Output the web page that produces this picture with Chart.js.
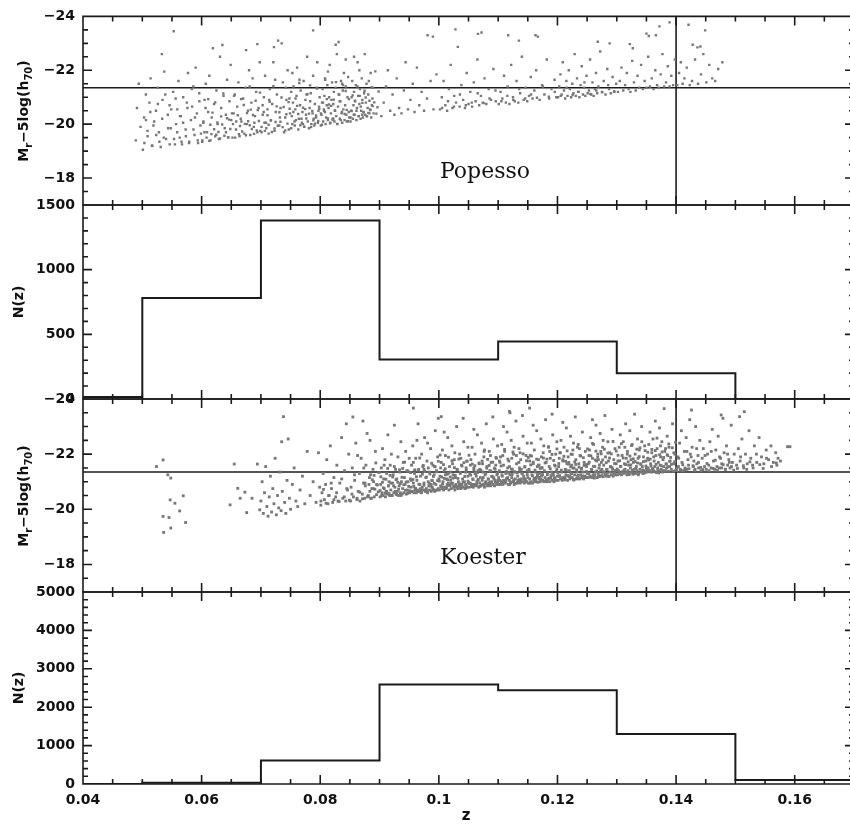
<!DOCTYPE html>
<html><head><meta charset="utf-8">
<script src="https://cdn.jsdelivr.net/npm/chart.js@4/dist/chart.umd.min.js"></script>
<style>
html,body{margin:0;padding:0;background:#fff;}
#wrap{position:relative;width:850px;height:825px;overflow:hidden;background:#fff;}
canvas{position:absolute;left:0;top:0;}
</style></head><body>
<div id="wrap">
<canvas id="c0" width="860" height="825"></canvas>
<canvas id="c1" width="860" height="825"></canvas>
<canvas id="c2" width="860" height="825"></canvas>
<canvas id="c3" width="860" height="825"></canvas>
</div>
<script>
// ---------------- data ----------------
const zMin = 0.04, zMax = 0.17;
const magMin = -24, magMax = -17;
const limitMag = -21.35;
const zCut = 0.14;
const binEdges = [0.03,0.05,0.07,0.09,0.11,0.13,0.15,0.17];
const popessoCounts = [15,780,1380,305,445,200,0];
const koesterCounts = [0,30,615,2590,2440,1300,105];
const zTicks = [0.04,0.06,0.08,0.1,0.12,0.14,0.16];
const zTickLabels = ['0.04','0.06','0.08','0.1','0.12','0.14','0.16'];
const magTicks = [-24,-22,-20,-18];
const magTickLabels = ['\u221224','\u221222','\u221220','\u221218'];
const popNTicks = [0,500,1000,1500];
const popNTickLabels = ['0','500','1000','1500'];
const koeNTicks = [0,1000,2000,3000,4000,5000];
const koeNTickLabels = ['0','1000','2000','3000','4000','5000'];

const popessoPts = [
[.0489,-19.4],[.0491,-20.6],[.0494,-21.5],[.0497,-19.9],[.0501,-19.05],[.0503,-20.25],[.0506,-21.1],[.0509,-19.55],[.0512,-20.8],[.0514,-21.7],[.0517,-19.2],[.0520,-20.1],[.0523,-20.5],[.0526,-21.35],[.0528,-19.7],[.0531,-19.15],[.0534,-20.9],[.0537,-21.95],[.0540,-19.45],[.0543,-20.35],[.0546,-20.7],[.0548,-19.85],
[.0552,-21.2],[.0553,-23.45],[.0555,-19.25],[.0557,-20.0],[.0559,-20.55],[.0561,-21.6],[.0563,-19.5],[.0565,-20.3],[.0567,-19.25],[.0569,-21.0],[.0533,-22.6],[.0573,-19.8],[.0575,-20.8],[.0577,-21.9],[.0579,-19.35],[.0582,-20.15],[.0584,-20.65],[.0586,-21.4],[.0588,-19.6],[.0590,-22.1],[.0592,-20.4],[.0594,-19.3],[.0596,-21.15],[.0598,-19.95],
[.0601,-19.35],[.0603,-20.1],[.0605,-20.9],[.0607,-21.5],[.0609,-19.7],[.0611,-20.45],[.0613,-21.8],[.0615,-19.4],[.0617,-20.25],[.0619,-22.82],[.0621,-20.75],[.0623,-19.55],[.0625,-21.25],[.0627,-20.0],[.0629,-19.45],[.0631,-22.5],[.0633,-20.6],[.0635,-22.94],[.0637,-21.05],[.0639,-19.85],[.0641,-20.35],[.0643,-21.65],[.0645,-19.5],[.0647,-20.85],[.0649,-22.2],[.0650,-20.15],
[.0652,-19.5],[.0654,-20.4],[.0656,-21.1],[.0658,-19.8],[.0660,-20.65],[.0662,-21.55],[.0664,-19.55],[.0666,-20.2],[.0675,-22.75],[.0670,-20.95],[.0672,-19.65],[.0674,-21.35],[.0676,-20.0],[.0678,-20.5],[.0680,-22.0],[.0682,-19.6],[.0684,-20.8],[.0686,-21.7],[.0688,-19.9],[.0690,-20.3],[.0692,-21.2],[.0694,-19.7],[.0696,-20.6],[.0698,-22.3],[.0667,-20.1],[.0681,-21.4],[.0689,-20.05],[.0699,-19.75],
[.0701,-19.7],[.0703,-20.35],[.0705,-21.0],[.0707,-21.8],[.0709,-19.85],[.0711,-20.55],[.0713,-19.65],[.0715,-21.3],[.0717,-20.15],[.0719,-20.75],[.0721,-22.3],[.0722,-22.86],[.0723,-19.75],[.0725,-20.45],[.0727,-21.1],[.0729,-23.1],[.0731,-19.95],[.0733,-20.6],[.0735,-23.0],[.0737,-21.55],[.0739,-19.7],[.0741,-20.25],[.0743,-20.9],[.0745,-22.0],[.0747,-19.8],[.0749,-20.4],[.0706,-20.05],[.0714,-20.9],[.0724,-21.65],[.0732,-20.25],[.0742,-21.35],[.0748,-20.95],[.0694,-22.97],
[.0751,-19.85],[.0752,-20.3],[.0754,-20.8],[.0755,-21.4],[.0757,-19.95],[.0758,-20.55],[.0760,-21.05],[.0761,-22.1],[.0763,-19.8],[.0764,-20.2],[.0766,-20.7],[.0767,-21.25],[.0769,-20.05],[.0770,-20.45],[.0772,-21.6],[.0773,-19.9],[.0775,-20.9],[.0776,-20.35],[.0778,-22.5],[.0779,-20.1],[.0781,-19.85],[.0782,-20.6],[.0784,-21.15],[.0785,-20.0],[.0787,-20.4],[.0788,-21.8],[.0790,-19.95],[.0791,-20.75],[.0793,-20.25],[.0794,-21.35],[.0796,-20.05],[.0797,-20.5],[.0799,-21.0],[.0753,-21.9],[.0759,-20.15],[.0765,-21.65],[.0771,-20.0],[.0777,-21.1],[.0783,-20.85],[.0789,-20.2],[.0795,-22.3],[.0798,-20.65],
[.0801,-19.95],[.0802,-20.35],[.0803,-20.8],[.0804,-21.3],[.0805,-20.1],[.0806,-20.55],[.0807,-21.05],[.0808,-21.7],[.0809,-20.0],[.0810,-20.25],[.0811,-20.7],[.0812,-21.45],[.0813,-20.15],[.0814,-20.6],[.0815,-21.0],[.0816,-22.2],[.0817,-20.05],[.0818,-20.4],[.0819,-20.9],[.0820,-21.55],[.0821,-20.2],[.0822,-20.75],[.0823,-21.2],[.0824,-20.1],[.0825,-20.5],[.0826,-21.35],[.0827,-20.3],[.0828,-22.6],[.0829,-20.0],[.0830,-20.65],[.0831,-23.05],[.0832,-21.1],[.0833,-20.2],[.0834,-20.85],[.0835,-21.6],[.0836,-20.4],[.0837,-20.05],[.0838,-21.25],[.0839,-20.55],[.0840,-21.9],[.0841,-20.15],[.0842,-20.7],[.0843,-21.4],[.0844,-20.35],[.0845,-20.1],[.0846,-21.0],[.0847,-21.75],[.0848,-20.45],[.0849,-20.25],[.0788,-23.48],[.0826,-22.95],[.0843,-22.4],[.0813,-21.95],[.0837,-21.5],[.0808,-20.45],[.0822,-20.2],
[.0851,-20.1],[.0852,-20.5],[.0853,-21.0],[.0854,-21.6],[.0855,-20.2],[.0856,-20.7],[.0857,-21.2],[.0858,-20.35],[.0859,-20.85],[.0860,-21.45],[.0861,-20.15],[.0862,-20.6],[.0863,-22.3],[.0864,-21.05],[.0865,-20.3],[.0866,-20.75],[.0867,-21.3],[.0868,-20.2],[.0869,-20.5],[.0870,-21.7],[.0871,-20.9],[.0872,-20.25],[.0873,-20.45],[.0874,-21.15],[.0875,-22.6],[.0876,-20.35],[.0877,-20.8],[.0878,-21.5],[.0879,-20.3],[.0880,-20.6],[.0881,-21.1],[.0883,-20.4],[.0885,-21.9],[.0886,-20.25],[.0887,-20.7],[.0889,-21.35],[.0890,-20.4],[.0884,-20.55],[.0888,-20.95],[.0882,-21.6],[.0866,-22.0],[.0857,-22.5],[.0871,-20.35],
[.0903,-20.3],[.0907,-20.8],[.0911,-21.4],[.0914,-22.0],[.0918,-20.5],[.0922,-21.1],[.0925,-20.35],[.0929,-21.7],[.0933,-20.6],[.0937,-20.4],[.0941,-21.25],[.0944,-22.3],[.0948,-20.55],[.0952,-20.9],[.0956,-21.5],[.0959,-20.45],[.0963,-22.1],[.0967,-20.7],[.0971,-21.2],[.0975,-20.5],[.0980,-20.95],[.0986,-21.6],[.0991,-20.55],[.0996,-21.85],
[.0981,-23.3],[.0990,-23.25],[.1028,-23.52],[.1002,-20.55],[.1005,-21.0],[.1008,-21.6],[.1011,-20.7],[.1014,-20.5],[.1017,-21.3],[.1020,-22.2],[.1023,-20.6],[.1026,-21.05],[.1029,-20.8],[.1032,-22.87],[.1035,-20.65],[.1038,-21.45],[.1041,-20.9],[.1044,-20.6],[.1047,-21.9],[.1050,-20.75],[.1053,-21.2],[.1056,-20.65],[.1059,-21.55],[.1062,-20.85],[.1065,-22.4],[.1068,-20.7],[.1071,-21.05],[.1074,-20.8],[.1077,-21.7],[.1080,-20.75],[.1084,-21.3],[.1088,-20.9],[.1092,-22.05],[.1096,-20.85],
[.1066,-23.35],[.1072,-23.4],[.1117,-23.3],[.1135,-23.1],[.1163,-23.3],[.1167,-23.25],[.1101,-20.75],[.1104,-21.2],[.1107,-20.95],[.1110,-21.8],[.1113,-20.8],[.1116,-21.4],[.1119,-20.75],[.1122,-22.2],[.1125,-21.0],[.1128,-20.85],[.1131,-21.6],[.1134,-20.8],[.1137,-21.15],[.1140,-22.5],[.1143,-20.9],[.1146,-21.35],[.1149,-20.85],[.1152,-21.05],[.1155,-21.75],[.1158,-20.95],[.1161,-21.25],[.1164,-22.0],[.1170,-20.9],[.1174,-21.45],[.1178,-21.1],[.1182,-22.4],[.1186,-20.95],[.1190,-21.3],[.1195,-21.65],[.1198,-21.0],
[.1201,-21.0],[.1203,-21.4],[.1205,-21.85],[.1207,-21.1],[.1209,-22.3],[.1211,-21.25],[.1213,-20.95],[.1215,-21.6],[.1217,-21.05],[.1219,-22.0],[.1221,-21.3],[.1223,-21.0],[.1225,-21.5],[.1227,-21.15],[.1229,-22.6],[.1231,-21.05],[.1233,-21.7],[.1235,-21.2],[.1237,-21.0],[.1239,-21.45],[.1241,-22.15],[.1243,-21.1],[.1245,-21.35],[.1247,-21.05],[.1249,-21.8],[.1251,-21.15],[.1253,-21.25],[.1255,-22.4],[.1257,-21.1],[.1259,-21.55],[.1261,-21.05],[.1263,-21.3],[.1265,-21.9],[.1267,-21.15],[.1269,-21.4],[.1272,-22.7],[.1275,-21.2],[.1278,-21.6],[.1281,-21.1],[.1284,-22.05],[.1287,-21.3],[.1290,-21.15],[.1293,-21.75],[.1296,-21.2],[.1299,-21.5],
[.1268,-23.06],[.1288,-23.0],[.1322,-22.97],[.1327,-22.82],[.1350,-23.36],[.1354,-23.27],[.1366,-23.3],[.1372,-23.63],[.1389,-23.78],[.1302,-21.2],[.1305,-21.6],[.1308,-22.1],[.1311,-21.25],[.1314,-21.45],[.1317,-21.9],[.1320,-21.3],[.1323,-21.2],[.1326,-22.35],[.1329,-21.55],[.1332,-21.25],[.1335,-21.8],[.1338,-21.35],[.1341,-22.2],[.1344,-21.3],[.1347,-21.6],[.1350,-21.35],[.1353,-22.5],[.1356,-21.4],[.1359,-21.7],[.1362,-21.3],[.1365,-22.0],[.1368,-21.45],[.1371,-21.35],[.1374,-21.85],[.1377,-22.6],[.1380,-21.4],[.1383,-21.55],[.1386,-22.15],[.1389,-21.4],[.1392,-21.8],[.1395,-21.45],[.1398,-22.4],
[.1421,-23.69],[.1449,-23.48],[.1428,-22.95],[.1436,-22.85],[.1441,-22.88],[.1402,-21.45],[.1405,-21.9],[.1408,-22.3],[.1411,-21.5],[.1414,-21.7],[.1418,-22.1],[.1423,-21.45],[.1427,-21.6],[.1432,-22.4],[.1437,-21.5],[.1442,-21.85],[.1446,-22.6],[.1451,-21.55],[.1456,-22.2],[.1461,-21.7],[.1466,-21.6],[.1471,-22.05],[.1478,-22.3]
];

// extra estimates for the crowded part of the Popesso cloud
const popessoDense = [
[.05035,-19.3],[.05062,-20.15],[.05088,-19.75],[.05135,-20.45],[.05162,-19.2],[.05188,-19.95],[.05235,-19.6],[.05262,-20.75],[.05288,-19.35],[.05335,-20.2],[.05362,-19.5],[.05388,-21.1],[.05435,-19.85],[.05462,-19.25],[.05488,-20.55],[.05535,-19.45],[.05562,-20.95],[.05588,-19.7],[.05635,-20.3],[.05662,-19.35],[.05688,-20.05],[.05735,-19.55],[.05762,-20.6],[.05788,-19.3],[.05835,-21.3],[.05862,-19.8],[.05888,-20.25],[.05935,-19.4],[.05962,-20.85],[.05988,-19.65],
[.06011,-19.4],[.06029,-20.05],[.06047,-19.7],[.06066,-20.6],[.06084,-19.5],[.06111,-20.93],[.06129,-19.38],[.06147,-19.98],[.06166,-19.63],[.06184,-20.43],[.06211,-19.81],[.06229,-20.81],[.06247,-19.61],[.06266,-20.06],[.06284,-19.71],[.06311,-19.47],[.06329,-20.29],[.06347,-19.99],[.06366,-21.14],[.06384,-19.57],[.06411,-19.7],[.06429,-20.22],[.06447,-19.52],[.06466,-20.17],[.06484,-19.82],
[.06511,-20.4],[.06529,-20.0],[.06547,-21.05],[.06566,-19.5],[.06584,-20.1],[.06611,-20.33],[.06629,-19.63],[.06647,-19.93],[.06666,-20.93],[.06684,-19.73],[.06711,-20.71],[.06729,-20.01],[.06747,-19.59],[.06766,-20.41],[.06784,-20.11],[.06811,-19.96],[.06829,-20.54],[.06847,-19.82],[.06866,-20.34],[.06884,-19.64],[.06911,-20.87],[.06929,-19.77],[.06947,-20.52],[.06966,-20.12],[.06984,-21.17],
[.07011,-19.9],[.07029,-20.7],[.07047,-20.45],[.07066,-19.75],[.07084,-20.05],[.07111,-20.33],[.07129,-19.98],[.07147,-20.83],[.07166,-20.13],[.07184,-19.71],[.07211,-21.41],[.07229,-19.84],[.07247,-20.08],[.07266,-20.66],[.07284,-19.94],[.07311,-20.44],[.07329,-20.09],[.07347,-20.99],[.07366,-19.89],[.07384,-20.64],[.07411,-19.77],[.07429,-20.37],[.07447,-20.02],[.07466,-20.82],[.07484,-20.57],
[.07511,-21.2],[.07529,-20.0],[.07547,-20.45],[.07566,-20.1],[.07584,-20.95],[.07611,-20.68],[.07629,-20.38],[.07647,-21.53],[.07666,-19.96],[.07684,-20.2],[.07711,-20.61],[.07729,-19.91],[.07747,-20.56],[.07766,-20.21],[.07784,-21.11],[.07811,-20.39],[.07829,-21.44],[.07847,-19.89],[.07866,-20.49],[.07884,-20.14],[.07911,-20.02],[.07929,-20.32],[.07947,-21.32],[.07966,-20.12],[.07984,-20.57],
[.08011,-20.4],[.08029,-19.98],[.08047,-20.8],[.08066,-20.5],[.08084,-21.65],[.08111,-20.93],[.08129,-20.21],[.08147,-20.73],[.08166,-20.03],[.08184,-20.68],[.08211,-20.16],[.08229,-20.91],[.08247,-20.51],[.08266,-21.56],[.08284,-20.01],[.08311,-21.1],[.08329,-20.85],[.08347,-20.15],[.08366,-20.45],[.08384,-21.45],[.08411,-20.38],[.08429,-21.23],[.08447,-20.53],[.08466,-20.11],[.08484,-20.93],
[.08511,-20.25],[.08529,-20.49],[.08547,-21.07],[.08566,-20.35],[.08584,-20.87],[.08611,-20.5],[.08629,-21.4],[.08647,-20.3],[.08666,-21.05],[.08684,-20.65],[.08711,-20.79],[.08729,-20.44],[.08747,-21.24],[.08766,-20.99],[.08784,-20.29],[.08811,-20.42],[.08829,-20.87],[.08847,-20.52],[.08866,-21.37],[.08884,-20.67],[.08911,-20.81],[.08929,-21.96],[.08947,-20.39],[.08966,-20.63],[.08984,-21.21],
[.10055,-20.6],[.10155,-20.85],[.10255,-20.65],[.10355,-21.1],[.10455,-20.7],[.10555,-20.8],[.10655,-21.15],[.10755,-20.78],[.10855,-20.95],[.10955,-21.25],[.11055,-20.85],[.11155,-21.05],[.11255,-20.9],[.11355,-21.3],[.11455,-20.95],[.11555,-21.1],[.11655,-20.98],[.11755,-21.4],[.11855,-21.02],[.11955,-21.2],[.12055,-21.05],[.12155,-21.35],[.12255,-21.08],[.12355,-21.2],[.12455,-21.55],[.12555,-21.12],[.12655,-21.25],[.12755,-21.18],[.12855,-21.45],[.12955,-21.22]
];

const koesterPts = [
[.0524,-21.55],[.0535,-21.79],[.0543,-21.25],[.0548,-21.13],[.0547,-20.34],[.0555,-20.22],[.0569,-20.49],[.0563,-19.94],[.0573,-19.52],[.0535,-19.74],[.0545,-19.7],[.0548,-19.32],[.0536,-19.16],
[.0648,-20.16],[.0655,-21.64],[.0661,-20.76],[.0665,-20.4],[.0673,-20.62],[.0676,-19.88],[.0685,-20.4],[.0694,-21.64],[.0698,-19.98],
[.0738,-23.36],[.0735,-22.45],[.0746,-22.55],[.0700,-20.3],[.0702,-21.0],[.0704,-19.85],[.0706,-20.6],[.0708,-21.55],[.0710,-20.1],[.0712,-19.75],[.0714,-20.45],[.0716,-21.2],[.0718,-19.9],[.0720,-20.75],[.0722,-20.2],[.0724,-21.85],[.0726,-19.8],[.0728,-20.5],[.0730,-20.05],[.0732,-21.35],[.0734,-19.95],[.0736,-20.65],[.0740,-20.25],[.0742,-19.85],[.0744,-21.05],[.0748,-20.4],[.0750,-20.0],[.0753,-20.9],[.0756,-21.5],[.0759,-20.3],[.0762,-20.1],[.0766,-20.7],[.0770,-21.2],[.0774,-20.2],[.0778,-22.1],[.0783,-20.5],[.0788,-21.0],[.0793,-20.25],[.0797,-22.05],[.0799,-20.8],
[.0844,-23.1],[.0801,-20.15],[.0803,-20.6],[.0805,-21.3],[.0807,-20.35],[.0809,-20.9],[.0811,-21.8],[.0813,-20.2],[.0815,-20.5],[.0817,-22.3],[.0819,-20.75],[.0821,-20.25],[.0823,-21.15],[.0826,-20.45],[.0828,-21.6],[.0830,-20.3],[.0833,-20.95],[.0836,-22.6],[.0838,-20.4],[.0841,-21.4],[.0843,-20.3],[.0846,-20.7],[.0848,-22.0],
[.0855,-23.35],[.0872,-23.2],[.0851,-20.3],[.0852,-20.8],[.0854,-21.5],[.0856,-20.45],[.0858,-21.05],[.0860,-22.4],[.0862,-20.35],[.0864,-20.65],[.0866,-21.3],[.0867,-20.3],[.0869,-21.85],[.0871,-20.55],[.0873,-20.95],[.0875,-20.4],[.0877,-21.6],[.0879,-22.75],[.0881,-20.5],[.0883,-21.15],[.0885,-20.4],[.0887,-20.75],[.0889,-21.45],[.0891,-20.45],[.0893,-22.1],[.0895,-20.9],[.0863,-21.95],[.0876,-20.85],[.0884,-22.5],[.0890,-21.0],
[.0901,-20.45],[.0902,-20.9],[.0903,-21.5],[.0904,-20.6],[.0905,-22.2],[.0906,-20.5],[.0907,-21.1],[.0908,-20.75],[.0909,-21.8],[.0910,-20.45],[.0911,-20.65],[.0912,-21.3],[.0913,-20.55],[.0914,-22.7],[.0915,-20.85],[.0916,-21.0],[.0917,-20.5],[.0918,-21.6],[.0919,-20.7],[.0920,-22.0],[.0921,-20.5],[.0922,-20.95],[.0923,-21.25],[.0924,-20.6],[.0925,-23.05],[.0926,-20.8],[.0927,-21.45],[.0928,-20.55],[.0929,-21.1],[.0930,-20.65],[.0931,-21.9],[.0932,-20.5],[.0933,-20.85],[.0934,-21.35],[.0935,-20.6],[.0936,-22.45],[.0937,-21.0],[.0938,-20.55],[.0939,-20.75],[.0940,-21.7],[.0941,-20.6],[.0942,-21.15],[.0943,-20.9],[.0944,-22.1],[.0945,-20.55],[.0946,-21.4],[.0947,-20.7],[.0948,-21.0],[.0949,-20.6],[.0950,-21.85],
[.0951,-20.6],[.0952,-21.1],[.0953,-20.8],[.0954,-21.6],[.0955,-20.65],[.0956,-22.3],[.0957,-20.95],[.0958,-20.6],[.0959,-21.3],[.0960,-20.75],[.0961,-21.85],[.0962,-20.6],[.0963,-21.05],[.0964,-20.7],[.0965,-23.1],[.0966,-21.45],[.0967,-20.65],[.0968,-20.9],[.0969,-21.2],[.0970,-20.6],[.0971,-22.0],[.0972,-20.8],[.0973,-21.55],[.0974,-20.7],[.0975,-20.95],[.0976,-22.6],[.0977,-20.65],[.0978,-21.15],[.0979,-20.75],[.0980,-21.75],[.0981,-20.6],[.0982,-21.0],[.0983,-20.85],[.0984,-21.35],[.0985,-20.7],[.0986,-22.2],[.0987,-20.65],[.0988,-21.05],[.0989,-20.8],[.0990,-21.6],[.0991,-20.7],[.0992,-21.25],[.0993,-20.65],[.0994,-22.85],[.0995,-20.9],[.0996,-21.4],[.0997,-20.7],[.0998,-21.9],[.0999,-20.75],[.1000,-21.1],[.0957,-21.7],[.0963,-22.5],[.0969,-20.75],[.0975,-21.45],[.0981,-22.4],[.0987,-20.9],[.0993,-21.55],[.0999,-23.3],[.0960,-20.7],[.0990,-20.72],[.0957,-23.67],
[.1001,-20.7],[.1002,-21.2],[.1003,-20.85],[.1004,-21.7],[.1005,-20.75],[.1006,-22.15],[.1007,-21.0],[.1008,-20.7],[.1009,-21.4],[.1010,-20.8],[.1011,-21.95],[.1012,-20.75],[.1013,-21.1],[.1014,-20.9],[.1015,-22.6],[.1016,-21.3],[.1017,-20.7],[.1018,-21.55],[.1019,-20.85],[.1020,-21.05],[.1021,-20.75],[.1022,-22.3],[.1023,-20.95],[.1024,-21.25],[.1025,-20.8],[.1026,-21.8],[.1027,-20.7],[.1028,-21.15],[.1029,-20.9],[.1030,-23.0],[.1031,-21.45],[.1032,-20.75],[.1033,-21.0],[.1034,-20.85],[.1035,-22.0],[.1036,-21.3],[.1037,-20.75],[.1038,-21.6],[.1039,-20.9],[.1040,-21.1],[.1041,-20.8],[.1042,-22.45],[.1043,-21.0],[.1044,-20.75],[.1045,-21.35],[.1046,-20.85],[.1047,-21.75],[.1048,-20.8],[.1049,-21.2],[.1050,-20.95],[.1003,-21.5],[.1009,-22.8],[.1013,-20.8],[.1019,-21.35],[.1023,-21.65],[.1027,-22.05],[.1033,-20.78],[.1037,-21.85],[.1041,-23.3],[.1045,-20.9],[.1049,-22.25],[.1006,-20.8],[.1016,-20.95],[.1026,-20.8],[.1036,-20.88],[.1046,-21.5],[.1011,-21.25],[.1031,-20.8],[.1004,-23.36],
[.1051,-20.8],[.1052,-21.3],[.1053,-20.95],[.1054,-21.8],[.1055,-20.85],[.1056,-22.25],[.1057,-21.1],[.1058,-20.8],[.1059,-21.5],[.1060,-20.9],[.1061,-22.0],[.1062,-20.85],[.1063,-21.2],[.1064,-21.0],[.1065,-22.7],[.1066,-21.4],[.1067,-20.8],[.1068,-21.65],[.1069,-20.95],[.1070,-21.15],[.1071,-20.85],[.1072,-22.4],[.1073,-21.05],[.1074,-21.35],[.1075,-20.9],[.1076,-21.9],[.1077,-20.8],[.1078,-21.25],[.1079,-21.0],[.1080,-23.1],[.1081,-21.55],[.1082,-20.85],[.1083,-21.1],[.1084,-20.95],[.1085,-22.1],[.1086,-21.4],[.1087,-20.85],[.1088,-21.7],[.1089,-21.0],[.1090,-21.2],[.1091,-20.9],[.1092,-22.55],[.1093,-21.1],[.1094,-20.85],[.1095,-21.45],[.1096,-20.95],[.1097,-21.85],[.1098,-20.9],[.1099,-21.3],[.1100,-21.05],[.1053,-21.6],[.1059,-22.9],[.1063,-20.9],[.1069,-21.45],[.1073,-21.75],[.1077,-22.15],[.1083,-20.88],[.1087,-21.95],[.1091,-23.35],[.1095,-21.0],[.1099,-22.3],[.1056,-20.9],[.1066,-21.05],[.1076,-20.9],[.1086,-20.98],[.1096,-21.6],[.1061,-21.3],[.1081,-20.9],
[.1101,-20.9],[.1102,-21.4],[.1103,-21.05],[.1104,-21.9],[.1105,-20.95],[.1106,-22.35],[.1107,-21.2],[.1108,-20.9],[.1109,-21.6],[.1110,-21.0],[.1111,-22.1],[.1112,-20.95],[.1113,-21.3],[.1114,-21.1],[.1115,-22.8],[.1116,-21.5],[.1117,-20.9],[.1118,-21.75],[.1119,-21.05],[.1120,-21.25],[.1121,-20.95],[.1122,-22.5],[.1123,-21.15],[.1124,-21.45],[.1125,-21.0],[.1126,-22.0],[.1127,-20.9],[.1128,-21.35],[.1129,-21.1],[.1130,-23.2],[.1131,-21.65],[.1132,-20.95],[.1133,-21.2],[.1134,-21.05],[.1135,-22.2],[.1136,-21.5],[.1137,-20.95],[.1138,-21.8],[.1139,-21.1],[.1140,-21.3],[.1141,-21.0],[.1142,-22.65],[.1143,-21.2],[.1144,-20.95],[.1145,-21.55],[.1146,-21.05],[.1147,-21.95],[.1148,-21.0],[.1149,-21.4],[.1150,-21.15],[.1103,-21.7],[.1109,-23.0],[.1113,-21.0],[.1119,-21.55],[.1123,-21.85],[.1127,-22.25],[.1133,-20.98],[.1137,-22.05],[.1141,-23.4],[.1145,-21.1],[.1149,-22.4],[.1106,-21.0],[.1116,-21.15],[.1126,-21.0],[.1136,-21.08],[.1119,-23.55],[.1120,-23.5],
[.1151,-20.95],[.1152,-21.45],[.1153,-21.1],[.1154,-21.95],[.1155,-21.0],[.1156,-22.4],[.1157,-21.25],[.1158,-20.95],[.1159,-21.65],[.1160,-21.05],[.1161,-22.15],[.1162,-21.0],[.1163,-21.35],[.1164,-21.15],[.1165,-22.85],[.1166,-21.55],[.1167,-20.98],[.1168,-21.8],[.1169,-21.1],[.1170,-21.3],[.1171,-21.0],[.1172,-22.55],[.1173,-21.2],[.1174,-21.5],[.1175,-21.05],[.1176,-22.05],[.1177,-21.0],[.1178,-21.4],[.1179,-21.15],[.1180,-23.25],[.1181,-21.7],[.1182,-21.0],[.1183,-21.25],[.1184,-21.1],[.1185,-22.25],[.1186,-21.55],[.1187,-21.0],[.1188,-21.85],[.1189,-21.15],[.1190,-21.35],[.1191,-21.05],[.1192,-22.7],[.1193,-21.25],[.1194,-21.0],[.1195,-21.6],[.1196,-21.1],[.1197,-22.0],[.1198,-21.05],[.1199,-21.45],[.1200,-21.2],[.1153,-21.75],[.1159,-23.05],[.1163,-21.05],[.1169,-21.6],[.1173,-21.9],[.1177,-22.3],[.1183,-21.02],[.1187,-22.1],[.1191,-23.45],[.1195,-21.15],[.1199,-22.45],[.1166,-21.2],[.1153,-23.67],
[.1201,-21.05],[.1202,-21.55],[.1203,-21.2],[.1204,-22.05],[.1205,-21.1],[.1206,-22.5],[.1207,-21.35],[.1208,-21.05],[.1209,-21.75],[.1210,-21.15],[.1211,-22.25],[.1212,-21.1],[.1213,-21.45],[.1214,-21.25],[.1215,-22.95],[.1216,-21.65],[.1217,-21.05],[.1218,-21.9],[.1219,-21.2],[.1220,-21.4],[.1221,-21.1],[.1222,-22.65],[.1223,-21.3],[.1224,-21.6],[.1225,-21.15],[.1226,-22.15],[.1227,-21.08],[.1228,-21.5],[.1229,-21.25],[.1230,-23.35],[.1231,-21.8],[.1232,-21.1],[.1233,-21.35],[.1234,-21.2],[.1235,-22.35],[.1236,-21.65],[.1237,-21.1],[.1238,-21.95],[.1239,-21.25],[.1240,-21.45],[.1241,-21.15],[.1242,-22.8],[.1243,-21.35],[.1244,-21.1],[.1245,-21.7],[.1246,-21.2],[.1247,-22.1],[.1248,-21.15],[.1249,-21.55],[.1250,-21.3],[.1203,-21.85],[.1209,-23.15],[.1213,-21.15],[.1219,-21.7],[.1223,-22.0],[.1227,-22.4],[.1233,-21.12],[.1237,-22.2],
[.1251,-21.15],[.1252,-21.65],[.1253,-21.3],[.1254,-22.15],[.1255,-21.2],[.1256,-22.6],[.1257,-21.45],[.1258,-21.15],[.1259,-21.85],[.1260,-21.25],[.1261,-22.35],[.1262,-21.2],[.1263,-21.55],[.1264,-21.35],[.1265,-23.05],[.1266,-21.75],[.1267,-21.15],[.1268,-22.0],[.1269,-21.3],[.1270,-21.5],[.1271,-21.2],[.1272,-22.75],[.1273,-21.4],[.1274,-21.7],[.1275,-21.25],[.1276,-22.25],[.1277,-21.18],[.1278,-21.6],[.1279,-21.35],[.1280,-23.4],[.1281,-21.9],[.1282,-21.2],[.1283,-21.45],[.1284,-21.3],[.1285,-22.45],[.1286,-21.75],[.1287,-21.2],[.1288,-22.05],[.1289,-21.35],[.1290,-21.55],[.1291,-21.25],[.1292,-22.9],[.1293,-21.45],[.1294,-21.2],[.1295,-21.8],[.1296,-21.3],[.1297,-22.2],[.1298,-21.25],[.1299,-21.65],[.1300,-21.4],[.1253,-21.95],[.1259,-23.25],[.1263,-21.25],[.1269,-21.8],[.1273,-22.1],[.1277,-22.5],
[.1301,-21.25],[.1302,-21.75],[.1303,-21.4],[.1304,-22.25],[.1305,-21.3],[.1306,-22.7],[.1307,-21.55],[.1308,-21.25],[.1309,-21.95],[.1310,-21.35],[.1311,-22.45],[.1312,-21.3],[.1313,-21.65],[.1314,-21.45],[.1315,-23.1],[.1316,-21.85],[.1317,-21.25],[.1318,-22.1],[.1319,-21.4],[.1320,-21.6],[.1321,-21.3],[.1322,-22.85],[.1323,-21.5],[.1324,-21.8],[.1325,-21.35],[.1326,-22.35],[.1327,-21.27],[.1328,-21.7],[.1329,-21.45],[.1330,-23.45],[.1331,-22.0],[.1332,-21.3],[.1333,-21.55],[.1334,-21.4],[.1335,-22.55],[.1336,-21.85],[.1337,-21.3],[.1338,-22.15],[.1339,-21.45],[.1340,-21.65],[.1341,-21.35],[.1342,-23.0],[.1343,-21.55],[.1344,-21.3],[.1345,-21.9],[.1346,-21.4],[.1347,-22.3],[.1348,-21.35],[.1349,-21.75],[.1350,-21.5],
[.1351,-21.35],[.1352,-21.85],[.1353,-21.5],[.1354,-22.35],[.1355,-21.4],[.1356,-22.8],[.1357,-21.65],[.1358,-21.35],[.1359,-22.05],[.1360,-21.45],[.1361,-22.55],[.1362,-21.4],[.1363,-21.75],[.1364,-21.55],[.1365,-23.2],[.1366,-21.95],[.1367,-21.33],[.1368,-22.2],[.1369,-21.5],[.1370,-21.7],[.1371,-21.4],[.1372,-22.95],[.1373,-21.6],[.1374,-21.9],[.1375,-21.45],[.1376,-22.45],[.1377,-21.35],[.1378,-21.8],[.1379,-21.55],[.1380,-23.65],[.1381,-22.1],[.1382,-21.4],[.1383,-21.65],[.1384,-21.5],[.1385,-22.65],[.1386,-21.95],[.1387,-21.38],[.1388,-22.25],[.1389,-21.55],[.1390,-21.75],[.1392,-21.45],[.1394,-23.1],[.1396,-21.65],[.1398,-22.0],[.1399,-21.4],
[.1401,-21.4],[.1403,-21.9],[.1404,-21.55],[.1406,-22.4],[.1407,-21.45],[.1409,-22.85],[.1410,-21.7],[.1412,-21.4],[.1414,-22.1],[.1415,-21.5],[.1417,-22.6],[.1418,-21.45],[.1420,-21.8],[.1421,-21.6],[.1423,-23.25],[.1424,-22.0],[.1426,-23.6],[.1427,-22.25],[.1429,-21.55],[.1430,-21.75],[.1432,-21.45],[.1433,-23.0],[.1435,-21.65],[.1437,-21.95],[.1438,-21.5],[.1440,-22.5],[.1442,-21.4],[.1444,-21.85],[.1446,-22.2],[.1448,-21.55],
[.1451,-21.45],[.1453,-22.0],[.1455,-21.6],[.1457,-22.45],[.1459,-21.5],[.1461,-22.9],[.1463,-21.75],[.1465,-21.45],[.1467,-22.15],[.1469,-21.55],[.1471,-22.65],[.1473,-21.5],[.1475,-21.85],[.1476,-23.42],[.1477,-21.65],[.1479,-23.3],[.1481,-22.05],[.1483,-21.45],[.1485,-22.3],[.1487,-21.6],[.1489,-21.8],[.1491,-21.5],[.1493,-23.05],[.1495,-21.7],[.1498,-22.0],
[.1515,-23.54],[.1507,-23.36],[.1502,-21.6],[.1505,-22.2],[.1508,-21.75],[.1511,-22.55],[.1514,-21.5],[.1517,-22.0],[.1520,-21.65],[.1523,-22.85],[.1526,-21.85],[.1529,-21.6],[.1532,-22.3],[.1536,-21.7],[.1540,-22.6],[.1544,-21.9],[.1548,-21.65],[.1552,-22.15],
[.1556,-21.8],[.1560,-22.3],[.1564,-21.7],[.1568,-22.05],[.1572,-21.85],[.1576,-21.75],[.1570,-21.6],[.1588,-22.27],[.1592,-22.27]
];

// extra estimates for the crowded band of the Koester cloud
const koesterDense = [
[.08012,-20.3],[.08055,-20.72],[.08098,-20.22],[.08142,-20.5],[.08185,-20.95],[.08231,-20.35],[.08276,-20.6],[.08318,-20.28],[.08362,-21.1],[.08405,-20.45],[.08447,-20.75],[.08492,-20.33],[.08534,-20.55],[.08577,-21.25],[.08621,-20.4],[.08668,-20.62],[.08712,-20.38],[.08755,-20.95],[.08798,-20.45],[.08735,-21.5],
[.08808,-20.47],[.08822,-20.9],[.08837,-20.65],[.08849,-21.25],[.08863,-20.4],[.08878,-21.07],[.08891,-20.75],
[.08908,-21.23],[.08922,-20.73],[.08937,-21.68],[.08949,-20.53],[.08963,-20.88],[.08978,-20.63],[.08991,-21.33],
[.09008,-20.68],[.09022,-21.18],[.09037,-20.5],[.09049,-20.98],[.09063,-20.78],[.09078,-21.6],[.09091,-20.58],
[.09108,-21.09],[.09122,-20.65],[.09137,-21.48],[.09149,-20.85],[.09163,-20.57],[.09178,-21.23],[.09191,-20.95],
[.09208,-20.5],[.09222,-21.17],[.09237,-20.85],[.09249,-21.55],[.09263,-20.65],[.09278,-21.07],[.09291,-20.53],
[.09308,-20.98],[.09322,-20.73],[.09337,-21.43],[.09349,-20.93],[.09363,-20.5],[.09378,-21.16],[.09391,-21.48],
[.09408,-20.89],[.09422,-21.71],[.09437,-20.69],[.09449,-20.99],[.09463,-20.57],[.09478,-21.39],[.09491,-20.83],
[.09508,-20.67],[.09522,-21.33],[.09537,-21.05],[.09549,-20.65],[.09563,-21.08],[.09578,-20.83],[.09591,-21.43],
[.09608,-20.76],[.09622,-21.18],[.09637,-20.64],[.09649,-21.41],[.09663,-20.91],[.09678,-21.86],[.09691,-20.71],
[.09708,-20.61],[.09722,-21.27],[.09737,-21.59],[.09749,-20.87],[.09763,-21.37],[.09778,-20.69],[.09791,-21.17],
[.09808,-20.68],[.09822,-21.5],[.09837,-20.94],[.09849,-21.28],[.09863,-20.84],[.09878,-21.67],[.09891,-21.04],
[.09908,-21.19],[.09922,-20.94],[.09937,-21.54],[.09949,-20.69],[.09963,-21.36],[.09978,-21.04],[.09991,-21.74],
[.10008,-21.02],[.10022,-21.97],[.10037,-20.82],[.10049,-21.17],[.10063,-20.92],[.10078,-21.62],[.10091,-21.12],
[.10108,-21.47],[.10122,-20.79],[.10137,-21.27],[.10149,-21.07],[.10163,-21.89],[.10178,-20.87],[.10191,-21.17],
[.10208,-20.93],[.10222,-21.76],[.10237,-21.13],[.10249,-20.85],[.10263,-21.51],[.10278,-21.23],[.10291,-20.83],
[.10308,-21.44],[.10322,-21.12],[.10337,-21.82],[.10349,-20.92],[.10363,-21.34],[.10378,-20.8],[.10391,-21.57],
[.10408,-20.99],[.10422,-21.69],[.10437,-21.19],[.10449,-20.76],[.10463,-21.42],[.10478,-21.74],[.10491,-21.02],
[.10508,-21.96],[.10522,-20.94],[.10537,-21.24],[.10549,-20.82],[.10563,-21.64],[.10578,-21.08],[.10591,-21.42],
[.10608,-21.58],[.10622,-21.3],[.10637,-20.9],[.10649,-21.33],[.10663,-21.08],[.10678,-21.68],[.10691,-20.83],
[.10708,-21.42],[.10722,-20.88],[.10737,-21.65],[.10749,-21.15],[.10763,-22.1],[.10778,-20.95],[.10791,-21.3],
[.10808,-21.49],[.10822,-21.81],[.10837,-21.09],[.10849,-21.59],[.10863,-20.91],[.10878,-21.39],[.10891,-21.19],
[.10908,-21.71],[.10922,-21.15],[.10937,-21.49],[.10949,-21.05],[.10963,-21.88],[.10978,-21.25],[.10991,-20.97],
[.11008,-21.15],[.11022,-21.75],[.11037,-20.9],[.11049,-21.57],[.11063,-21.25],[.11078,-21.95],[.11091,-21.05],
[.11108,-22.17],[.11122,-21.02],[.11137,-21.37],[.11149,-21.12],[.11163,-21.82],[.11178,-21.32],[.11191,-20.89],
[.11208,-20.98],[.11222,-21.46],[.11237,-21.26],[.11249,-22.08],[.11263,-21.06],[.11278,-21.36],[.11291,-20.94],
[.11308,-21.95],[.11322,-21.32],[.11337,-21.04],[.11349,-21.7],[.11363,-21.42],[.11378,-21.02],[.11391,-21.45],
[.11408,-21.31],[.11422,-22.01],[.11437,-21.11],[.11449,-21.53],[.11463,-20.99],[.11478,-21.76],[.11491,-21.26],
[.11508,-21.88],[.11522,-21.38],[.11537,-20.95],[.11549,-21.61],[.11563,-21.93],[.11578,-21.21],[.11591,-21.71],
[.11608,-21.12],[.11622,-21.42],[.11637,-21.0],[.11649,-21.82],[.11663,-21.26],[.11678,-21.6],[.11691,-21.16],
[.11708,-21.48],[.11722,-21.08],[.11737,-21.51],[.11749,-21.26],[.11763,-21.86],[.11778,-21.01],[.11791,-21.68],
[.11808,-21.05],[.11822,-21.82],[.11837,-21.32],[.11849,-22.27],[.11863,-21.12],[.11878,-21.47],[.11891,-21.22],
[.11908,-21.99],[.11922,-21.27],[.11937,-21.77],[.11949,-21.09],[.11963,-21.57],[.11978,-21.37],[.11991,-22.19],
[.12008,-21.32],[.12022,-21.66],[.12037,-21.22],[.12049,-22.05],[.12063,-21.42],[.12078,-21.14],[.12091,-21.8],
[.12108,-21.92],[.12122,-21.07],[.12137,-21.74],[.12149,-21.42],[.12163,-22.12],[.12178,-21.22],[.12191,-21.64],
[.12208,-21.19],[.12222,-21.54],[.12237,-21.29],[.12249,-21.99],[.12263,-21.49],[.12278,-21.06],[.12291,-21.72],
[.12308,-21.63],[.12322,-21.43],[.12337,-22.25],[.12349,-21.23],[.12363,-21.53],[.12378,-21.11],[.12391,-21.93],
[.12408,-21.49],[.12422,-21.21],[.12437,-21.87],[.12449,-21.59],[.12463,-21.19],[.12478,-21.62],[.12491,-21.37],
[.12508,-22.19],[.12522,-21.29],[.12537,-21.71],[.12549,-21.17],[.12563,-21.94],[.12578,-21.44],[.12591,-22.39],
[.12608,-21.56],[.12622,-21.13],[.12637,-21.79],[.12649,-22.11],[.12663,-21.39],[.12678,-21.89],[.12691,-21.21],
[.12708,-21.61],[.12722,-21.19],[.12737,-22.01],[.12749,-21.45],[.12763,-21.79],[.12778,-21.35],[.12791,-22.18],
[.12808,-21.26],[.12822,-21.69],[.12837,-21.44],[.12849,-22.04],[.12863,-21.19],[.12878,-21.86],[.12891,-21.54],
[.12908,-22.01],[.12922,-21.51],[.12937,-22.46],[.12949,-21.31],[.12963,-21.66],[.12978,-21.41],[.12991,-22.11],
[.13008,-21.46],[.13022,-21.96],[.13037,-21.28],[.13049,-21.76],[.13063,-21.56],[.13078,-22.38],[.13091,-21.36],
[.13108,-21.86],[.13122,-21.42],[.13137,-22.25],[.13149,-21.62],[.13163,-21.34],[.13178,-22.0],[.13191,-21.72],
[.13208,-21.26],[.13222,-21.93],[.13237,-21.61],[.13249,-22.31],[.13263,-21.41],[.13278,-21.83],[.13291,-21.29],
[.13308,-21.73],[.13322,-21.48],[.13337,-22.18],[.13349,-21.68],[.13363,-21.25],[.13378,-21.91],[.13391,-22.23],
[.13408,-21.63],[.13422,-22.45],[.13437,-21.43],[.13449,-21.73],[.13463,-21.31],[.13478,-22.13],[.13491,-21.57],
[.13508,-21.41],[.13522,-22.07],[.13537,-21.79],[.13549,-21.39],[.13563,-21.82],[.13578,-21.57],[.13591,-22.17],
[.13608,-21.48],[.13622,-21.9],[.13637,-21.36],[.13649,-22.13],[.13663,-21.63],[.13678,-22.58],[.13691,-21.43],
[.13708,-21.32],[.13722,-21.98],[.13737,-22.3],[.13749,-21.58],[.13763,-22.08],[.13778,-21.4],[.13791,-21.88],
[.13808,-21.38],[.13822,-22.2],[.13837,-21.64],[.13849,-21.98],[.13863,-21.54],[.13878,-22.37],[.13891,-21.74],
[.13908,-21.88],[.13922,-21.63],[.13937,-22.23],[.13949,-21.38],[.13963,-22.05],[.13978,-21.73],[.13991,-22.43],
[.14015,-21.5],[.14045,-21.85],[.14075,-21.42],[.14112,-21.62],[.14152,-21.43],[.14183,-22.1],[.14218,-21.47],[.14255,-21.9],[.14286,-21.58],[.14314,-21.41],[.14347,-22.2],[.14379,-21.7],[.14416,-21.52],[.14452,-21.44],[.14488,-21.95],[.14521,-21.66],[.14557,-21.4],[.14593,-22.1],[.14625,-21.48],[.14662,-21.78],[.14698,-21.42],[.14733,-21.9],[.14768,-21.5],[.14795,-21.62],[.14832,-21.45],[.14868,-22.0],[.14897,-21.7],[.14935,-21.55],[.14972,-21.42],
[.15035,-21.48],[.15088,-21.9],[.15135,-21.58],[.15192,-21.45],[.15245,-21.72],[.15298,-21.5],[.15355,-22.0],[.15412,-21.62],[.15468,-21.48],[.15525,-21.85],[.15610,-21.55],[.15690,-21.68]
];

// ---------------- drawing helpers ----------------
Chart.defaults.font.family = 'DejaVu Sans';
Chart.defaults.font.size = 14;
Chart.defaults.font.weight = 'bold';
Chart.defaults.color = '#111';

const INK = '#1b1b1b';
const DOT = '#777777';

function toXY(p) { return {x: p[0], y: p[1]}; }
function histPoints(edges, counts) {
  return edges.map((e, i) => ({x: e, y: counts[Math.min(i, counts.length - 1)]}));
}

const framePlugin = {
  id: 'frame',
  afterDatasetsDraw(chart, args, o) {
    const {ctx, chartArea: a} = chart;
    const xs = chart.scales.x, ys = chart.scales.y;
    ctx.save();
    ctx.strokeStyle = INK;
    ctx.lineWidth = 1.6;
    ctx.beginPath();
    ctx.rect(a.left, a.top, a.right - a.left, a.bottom - a.top);
    for (let k = 0; k <= 26; k++) {
      const v = zMin + k * 0.005;
      const len = (k % 4 === 0) ? 9 : 5;
      const p = xs.getPixelForValue(v);
      ctx.moveTo(p, a.top); ctx.lineTo(p, a.top + len);
      ctx.moveTo(p, a.bottom); ctx.lineTo(p, a.bottom - len);
    }
    const n = Math.round((o.yMax - o.yMin) / o.yMinorStep);
    for (let k = 0; k <= n; k++) {
      const v = o.yMin + k * o.yMinorStep;
      const major = o.yMajor.some(m => Math.abs(m - v) < 1e-6);
      const len = major ? 9 : 5;
      const p = ys.getPixelForValue(v);
      ctx.moveTo(a.left, p); ctx.lineTo(a.left + len, p);
      ctx.moveTo(a.right, p); ctx.lineTo(a.right - len, p);
    }
    ctx.stroke();
    ctx.restore();
  },
  afterDraw(chart, args, o) {
    const {ctx} = chart;
    ctx.save();
    ctx.fillStyle = '#111';
    ctx.textBaseline = 'middle';
    if (o.yTitle) {
      ctx.translate(o.yTitle.x, o.yTitle.y);
      ctx.rotate(-Math.PI / 2);
      const parts = o.yTitle.parts;
      let w = 0;
      for (const p of parts) { ctx.font = p.sub ? 'bold 10px DejaVu Sans' : 'bold 14px DejaVu Sans'; w += ctx.measureText(p.t).width; }
      let x = -w / 2;
      ctx.textAlign = 'left';
      for (const p of parts) {
        ctx.font = p.sub ? 'bold 10px DejaVu Sans' : 'bold 14px DejaVu Sans';
        ctx.fillText(p.t, x, p.sub ? 5 : 0);
        x += ctx.measureText(p.t).width;
      }
      ctx.setTransform(1, 0, 0, 1, 0, 0);
    }
    if (o.tag) {
      ctx.font = '22px DejaVu Serif';
      ctx.textAlign = 'center';
      ctx.fillText(o.tag.text, o.tag.x, o.tag.y);
    }
    if (o.xTitle) {
      ctx.font = 'bold 15px DejaVu Sans';
      ctx.textAlign = 'center';
      ctx.fillText(o.xTitle.text, o.xTitle.x, o.xTitle.y);
    }
    ctx.restore();
  }
};

const magTitle = [{t: 'M'}, {t: 'r', sub: true}, {t: '\u22125log(h'}, {t: '70', sub: true}, {t: ')'}];
const nTitle = [{t: 'N(z)'}];

function yAxis(min, max, reverse, ticks, labels) {
  return {
    type: 'linear', position: 'left', min, max, reverse,
    afterFit: s => { s.width = 83; },
    afterBuildTicks: s => { s.ticks = ticks.map(v => ({value: v})); },
    grid: {display: false, drawTicks: false},
    border: {display: false},
    ticks: {padding: 8, callback: (v, i) => labels[i], font: {size: 14, weight: 'bold'}, color: '#111'}
  };
}
function xAxis(show) {
  const ax = {
    type: 'linear', position: 'bottom', min: zMin, max: zMax, display: show,
    grid: {display: false, drawTicks: false},
    border: {display: false},
    ticks: {padding: 8, autoSkip: false, maxRotation: 0, font: {size: 14, weight: 'bold'}, color: '#111'}
  };
  if (show) {
    ax.afterFit = s => { s.height = 41; };
    ax.afterBuildTicks = s => { s.ticks = zTicks.map(v => ({value: v})); };
    ax.ticks.callback = (v, i) => zTickLabels[i];
  }
  return ax;
}
function lineDS(data, w) {
  return {type: 'line', data, showLine: true, borderColor: INK, borderWidth: w, pointRadius: 0, fill: false, tension: 0};
}
function scatterDS(pts, r) {
  return {type: 'scatter', data: pts.map(toXY), pointStyle: 'rect', pointRadius: r, backgroundColor: DOT, borderWidth: 0};
}

const panelTop = [14, 205, 399, 592];
const panelBottom = [205, 399, 592, 784];

function make(id, idx, datasets, yScale, frameOpts, showX) {
  return new Chart(document.getElementById(id), {
    type: 'scatter',
    data: {datasets},
    options: {
      responsive: false, animation: false, events: [],
      layout: {padding: {top: panelTop[idx], bottom: showX ? 0 : 825 - panelBottom[idx], left: 0, right: 6}},
      scales: {x: xAxis(showX), y: yScale},
      plugins: {legend: {display: false}, tooltip: {enabled: false}, frame: frameOpts}
    },
    plugins: [framePlugin]
  });
}

// Panel 1: Popesso scatter
make('c0', 0, [
  scatterDS(popessoPts.concat(popessoDense), 1.7),
  lineDS([{x: zMin, y: limitMag}, {x: zMax, y: limitMag}], 1.6),
  lineDS([{x: zCut, y: magMin}, {x: zCut, y: magMax}], 1.6)
], yAxis(magMin, magMax, true, magTicks, magTickLabels),
{yMin: magMin, yMax: magMax, yMinorStep: 0.5, yMajor: magTicks,
 yTitle: {x: 24, y: 111, parts: magTitle}, tag: {text: 'Popesso', x: 485, y: 172}}, false);

// Panel 2: Popesso N(z)
make('c1', 1, [
  Object.assign(lineDS(histPoints(binEdges, popessoCounts), 2), {stepped: true})
], yAxis(0, 1500, false, popNTicks, popNTickLabels),
{yMin: 0, yMax: 1500, yMinorStep: 100, yMajor: popNTicks,
 yTitle: {x: 19, y: 302, parts: nTitle}}, false);

// Panel 3: Koester scatter
make('c2', 2, [
  scatterDS(koesterPts.concat(koesterDense), 2.0),
  lineDS([{x: zMin, y: limitMag}, {x: zMax, y: limitMag}], 1.6),
  lineDS([{x: zCut, y: magMin}, {x: zCut, y: magMax}], 1.6)
], yAxis(magMin, magMax, true, magTicks, magTickLabels),
{yMin: magMin, yMax: magMax, yMinorStep: 0.5, yMajor: magTicks,
 yTitle: {x: 24, y: 496, parts: magTitle}, tag: {text: 'Koester', x: 483, y: 558}}, false);

// Panel 4: Koester N(z)
make('c3', 3, [
  Object.assign(lineDS(histPoints(binEdges, koesterCounts), 2), {stepped: true})
], yAxis(0, 5000, false, koeNTicks, koeNTickLabels),
{yMin: 0, yMax: 5000, yMinorStep: 200, yMajor: koeNTicks,
 yTitle: {x: 19, y: 688, parts: nTitle}, xTitle: {text: 'z', x: 466, y: 816}}, true);
</script>
</body></html>
